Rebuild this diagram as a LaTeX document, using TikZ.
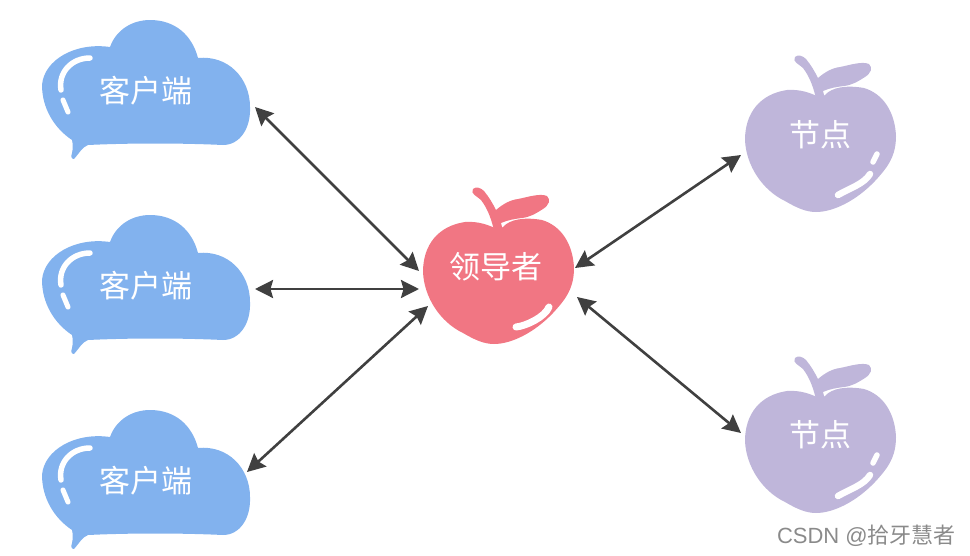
\documentclass[tikz,border=0pt]{standalone}
\usepackage{fontspec}
\setmainfont{Liberation Sans}
\newfontfamily\cjkw{Noto Sans CJK SC}
\usetikzlibrary{arrows.meta}
\definecolor{cloudblue}{HTML}{82B2EE}
\definecolor{applered}{HTML}{F17683}
\definecolor{applepurple}{HTML}{BFB6DA}
\definecolor{arrowgrey}{HTML}{404040}
\definecolor{markgrey}{HTML}{8A8A8A}
\tikzset{
  label text/.style={text=white,font=\cjkw\fontsize{31}{31}\selectfont,inner sep=0pt},
  shine/.style={draw=white,line cap=round,line join=round},
  link/.style={draw=arrowgrey,line width=2.6pt,{Stealth[length=18pt,width=18pt,inset=2.5pt]}-{Stealth[length=18pt,width=18pt,inset=2.5pt]}},
  mark text/.style={text=markgrey,font=\fontsize{22}{22}\selectfont,inner sep=0pt,anchor=east}
}
\newcommand{\cloudshape}[1]{%
\begin{scope}[shift={(0,#1)}]
\fill[cloudblue] (74,159) .. controls (71,159) and (71,156) .. (72,153)
 .. controls (73,149) and (73,144) .. (72,140)
 .. controls (54,128) and (42,108) .. (42,85)
 .. controls (44,60) and (75,42) .. (110,47)
 .. controls (116,30) and (132,20) .. (150,20)
 .. controls (175,20) and (192,35) .. (198,58)
 .. controls (228,55) and (250,78) .. (250,107)
 .. controls (251,128) and (240,145) .. (223,145)
 .. controls (180,143) and (130,143) .. (88,145)
 .. controls (82,147) and (78,155) .. (74,159) -- cycle;
\draw[shine,line width=5.5pt] (90,58) .. controls (72,58) and (58,72) .. (61,90);
\draw[shine,line width=5pt] (63,100) -- (68,112);
\end{scope}}
\newcommand{\appleshape}[3]{%
\begin{scope}[shift={(#1,#2)}]
\fill[#3] (498,230) .. controls (490,225) and (478,221) .. (465,222)
 .. controls (438,226) and (423,245) .. (423,272)
 .. controls (424,297) and (440,322) .. (463,333)
 .. controls (475,340) and (484,344) .. (494,344)
 .. controls (512,344) and (535,332) .. (553,313)
 .. controls (566,299) and (574,288) .. (574,268)
 .. controls (573,245) and (562,226) .. (542,220)
 .. controls (525,217) and (510,219) .. (503,227)
 -- (498,230) -- cycle;
\fill[#3] (473,189) .. controls (476,186) and (481,188) .. (484,191)
 .. controls (489,197) and (493,204) .. (496,210)
 .. controls (503,204) and (510,200) .. (518,199)
 .. controls (528,197) and (540,193) .. (547,196)
 .. controls (551,200) and (549,205) .. (543,209)
 .. controls (535,214) and (530,217) .. (522,218)
 .. controls (514,219) and (508,220) .. (501,223)
 -- (503,231) -- (494,231)
 .. controls (492,221) and (488,209) .. (481,200)
 .. controls (477,196) and (470,194) .. (473,189) -- cycle;
\end{scope}}
\begin{document}
\begin{tikzpicture}[x=1pt,y=-1pt]
\useasboundingbox (0,0) rectangle (970,555);
\cloudshape{0}\cloudshape{195}\cloudshape{390}
\appleshape{0}{0}{applered}
\appleshape{322}{-132}{applepurple}
\appleshape{322}{169}{applepurple}
\draw[shine,line width=7pt] (516,327) .. controls (526,326) and (545,317) .. (549,307);
\foreach \dy in {-132,169}{
 \draw[shine,line width=6.5pt] (838,\dy+327) .. controls (850,\dy+320) and (864,\dy+316) .. (870,\dy+306);
 \draw[shine,line width=5.5pt] (873,\dy+294) -- (877,\dy+286);
}
\node[label text] (client1) at (146,91) {客户端};
\node[label text] (client2) at (146,286) {客户端};
\node[label text] (client3) at (146,481) {客户端};
\node[label text] (leader) at (496,267) {领导者};
\node[label text] (peer1) at (820,135) {节点};
\node[label text] (peer2) at (820,435) {节点};
\coordinate (c1e) at (255,107);
\coordinate (c2e) at (255,289);
\coordinate (c3e) at (247,472);
\coordinate (l1) at (419,271);
\coordinate (l2) at (419,289);
\coordinate (l3) at (428,306);
\coordinate (l4) at (575,268);
\coordinate (l5) at (577,297);
\coordinate (p1e) at (741,155);
\coordinate (p2e) at (741,433);
\draw[link] (c1e) -- (l1);
\draw[link] (c2e) -- (l2);
\draw[link] (c3e) -- (l3);
\draw[link] (l4) -- (p1e);
\draw[link] (l5) -- (p2e);
\node[mark text] (watermark) at (956,536) {CSDN @{\cjkw 拾牙慧者}};
\end{tikzpicture}
\end{document}
